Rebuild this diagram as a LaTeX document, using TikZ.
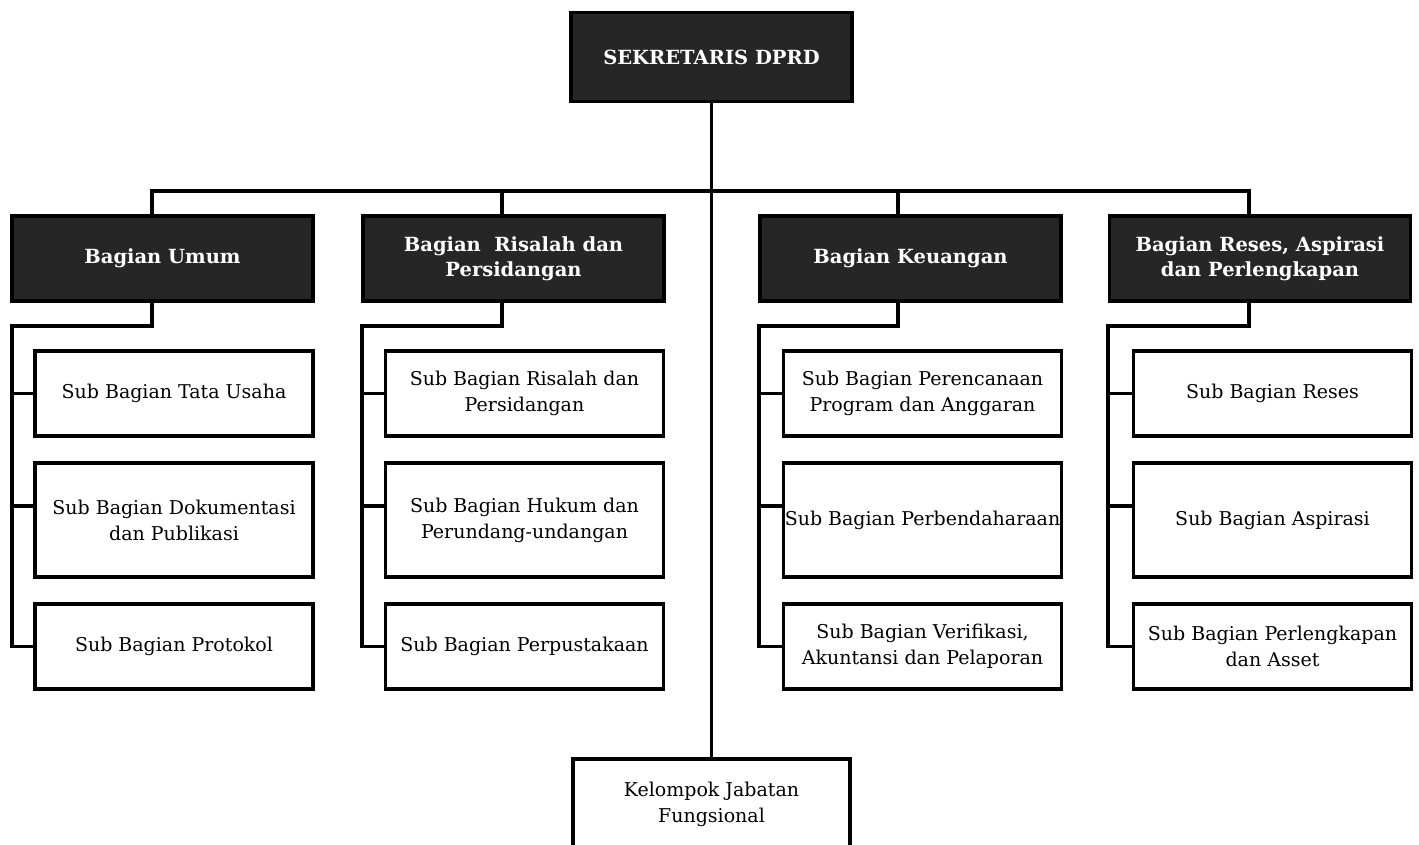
\documentclass[tikz,border=0pt]{standalone}
\usepackage{fontspec}
\setmainfont{DejaVu Serif}
\definecolor{hd}{HTML}{262626}
\begin{document}
\begin{tikzpicture}[x=1pt,y=-1pt,
  conn/.style={draw=black,line width=3.8pt},
  headbox/.style={draw=black,line width=3.8pt,fill=hd,text=white,
    font=\fontsize{19.5}{25}\selectfont\bfseries,align=center,inner sep=0pt},
  subbox/.style={draw=black,line width=3.8pt,fill=white,text=black,
    font=\fontsize{19}{26}\selectfont,align=center,inner sep=0pt,
    minimum width=278pt},
  s1/.style={subbox,minimum height=85pt},
  s2/.style={subbox,minimum height=114pt},
  bag/.style={headbox,minimum width=301pt,minimum height=85pt}]
\useasboundingbox (0,0) rectangle (1419,844);
\clip (0,0) rectangle (1419,844);
\fill[white] (0,0) rectangle (1419,844);

% top
\node[headbox,minimum width=281pt,minimum height=89pt] (top) at (711.5,57) {SEKRETARIS DPRD};
\node[subbox,minimum width=277pt,minimum height=90pt] (kel) at (711.5,804) {Kelompok Jabatan\\Fungsional};

% bagian
\node[bag] (b1) at (162.5,258.5) {Bagian Umum};
\node[bag] (b2) at (513.5,258.5) {Bagian\ \ Risalah dan\\Persidangan};
\node[bag] (b3) at (910.5,258.5) {Bagian Keuangan};
\node[bag] (b4) at (1260,258.5) {Bagian Reses, Aspirasi\\dan Perlengkapan};

% subs
\node[s1] (a1) at (174,393.5) {Sub Bagian Tata Usaha};
\node[s2] (a2) at (174,520) {Sub Bagian Dokumentasi\\dan Publikasi};
\node[s1] (a3) at (174,646.5) {Sub Bagian Protokol};

\node[s1] (r1) at (524.5,393.5) {Sub Bagian Risalah dan\\Persidangan};
\node[s2] (r2) at (524.5,520) {Sub Bagian Hukum dan\\Perundang-undangan};
\node[s1] (r3) at (524.5,646.5) {Sub Bagian Perpustakaan};

\node[s1] (k1) at (922.5,393.5) {Sub Bagian Perencanaan\\Program dan Anggaran};
\node[s2] (k2) at (922.5,520) {Sub Bagian Perbendaharaan};
\node[s1] (k3) at (922.5,646.5) {Sub Bagian Verifikasi,\\Akuntansi dan Pelaporan};

\node[s1] (p1) at (1272.5,393.5) {Sub Bagian Reses};
\node[s2] (p2) at (1272.5,520) {Sub Bagian Aspirasi};
\node[s1] (p3) at (1272.5,646.5) {Sub Bagian Perlengkapan\\dan Asset};

% coordinates
\coordinate (busL) at (152,191);
\coordinate (busR) at (1249,191);
\foreach \t/\sx/\b in {152/12/b1, 502/362/b2, 898/759/b3, 1249/1108/b4}{
  \coordinate (t-\b) at (\t,191);
  \coordinate (d-\b) at (\t,326);
  \coordinate (s-\b) at (\sx,326);
}

% connectors
\draw[conn] (top.south) -- (kel.north);
\draw[conn,line cap=rect] (busL) -- (busR);
\foreach \b/\x/\y/\z in {b1/a1/a2/a3, b2/r1/r2/r3, b3/k1/k2/k3, b4/p1/p2/p3}{
  \draw[conn] (t-\b) -- (t-\b |- \b.north);
  \draw[conn,line join=miter] (t-\b |- \b.south) -- (d-\b) -- (s-\b) -- (s-\b |- \z.west) -- (\z.west);
  \draw[conn] (s-\b |- \x.west) -- (\x.west);
  \draw[conn] (s-\b |- 0,506) -- (\y.west |- 0,506);
}
\end{tikzpicture}
\end{document}
